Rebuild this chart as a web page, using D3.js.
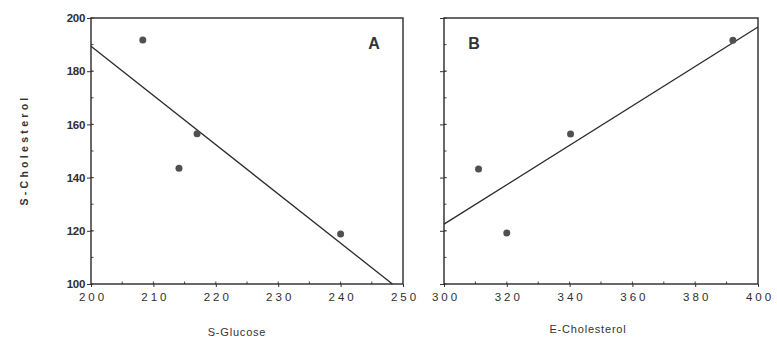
<!DOCTYPE html>
<meta charset="utf-8">
<style>
    body {
        margin: 0;
        background: #fff;
    }

    svg {
        font-family: "Liberation Sans", Arial, sans-serif;
    }

    .frame {
        fill: none;
        stroke: #2a2a2a;
        stroke-width: 1.4;
    }

    .axis path {
        display: none;
    }

    .axis line {
        stroke: #333;
    }

    .axis text {
        fill: #2e2e2e;
    }

    .fit {
        fill: none;
        stroke: #2a2a2a;
        stroke-width: 1.3;
    }

    .dot {
        fill: #505050;
    }
</style>
<body>
<script src="https://cdn.jsdelivr.net/npm/d3@7"></script>
<script>
    const width = 777;
    const height = 341;

    // panel A: S-Glucose vs S-Cholesterol
    const glucoseA = [208.3, 214.1, 217, 240];
    const cholA = [191.7, 143.5, 156.5, 118.8];
    const fitA = [[200, 189.4], [248.3, 100]];

    // panel B: E-Cholesterol vs S-Cholesterol
    const eCholB = [311, 320, 340.3, 392];
    const cholB = [143.2, 119.2, 156.4, 191.6];
    const fitB = [[300, 122.5], [400, 196.6]];

    const yTicks = [100, 120, 140, 160, 180, 200];
    const xTicksA = [200, 210, 220, 230, 240, 250];
    const xTicksB = [300, 320, 340, 360, 380, 400];

    const svg = d3.select('body')
        .append('svg')
        .attr('width', width)
        .attr('height', height);

    const yScale = d3.scaleLinear().domain([100, 200]).range([284, 18]);

    function drawPanel(opts) {
        const xScale = d3.scaleLinear().domain(opts.domain).range(opts.range);
        const g = svg.append('g');

        // minor ticks inside the frame
        const minorY = d3.range(110, 200, 10).concat(yTicks);
        g.selectAll('.ytick-minor')
            .data(minorY)
            .enter().append('line')
            .attr('x1', opts.range[0])
            .attr('x2', opts.range[0] + 2.5)
            .attr('y1', d => yScale(d))
            .attr('y2', d => yScale(d))
            .attr('stroke', '#444');

        const stepX = (opts.domain[1] - opts.domain[0]) / 10;
        g.selectAll('.xtick-minor')
            .data(d3.range(opts.domain[0] + stepX, opts.domain[1], stepX))
            .enter().append('line')
            .attr('x1', d => xScale(d))
            .attr('x2', d => xScale(d))
            .attr('y1', yScale(100))
            .attr('y2', yScale(100) - 2.5)
            .attr('stroke', '#444');

        // y axis
        const yAxis = d3.axisLeft(yScale)
            .tickValues(yTicks)
            .tickSize(4)
            .tickPadding(2)
            .tickFormat(opts.yLabels ? d3.format('d') : '');
        g.append('g')
            .attr('class', 'y axis')
            .attr('transform', 'translate(' + opts.range[0] + ',0)')
            .call(yAxis)
            .selectAll('text')
            .attr('font-size', 11.5)
            .attr('font-weight', 'bold')
            .attr('letter-spacing', '-0.3px');

        // x axis
        const xAxis = d3.axisBottom(xScale)
            .tickValues(opts.ticks)
            .tickSize(3)
            .tickPadding(6)
            .tickFormat(d3.format('d'));
        g.append('g')
            .attr('class', 'x axis')
            .attr('transform', 'translate(0,' + yScale(100) + ')')
            .call(xAxis)
            .selectAll('text')
            .attr('font-size', 11.5)
            .attr('letter-spacing', '3px')
            .attr('dx', '1.5px');

        // frame
        g.append('rect')
            .attr('class', 'frame')
            .attr('x', opts.range[0])
            .attr('y', yScale(200))
            .attr('width', opts.range[1] - opts.range[0])
            .attr('height', yScale(100) - yScale(200));

        // regression line
        g.append('path')
            .datum(opts.fit)
            .attr('class', 'fit')
            .attr('d', d3.line().x(d => xScale(d[0])).y(d => yScale(d[1])));

        // points
        g.selectAll('.dot')
            .data(opts.x.map((v, i) => [v, opts.y[i]]))
            .enter().append('circle')
            .attr('class', 'dot')
            .attr('r', 3.5)
            .attr('cx', d => xScale(d[0]))
            .attr('cy', d => yScale(d[1]));

        // panel letter
        g.append('text')
            .attr('x', opts.letterX)
            .attr('y', 49)
            .attr('text-anchor', 'middle')
            .attr('font-size', 16)
            .attr('font-weight', 'bold')
            .attr('fill', '#333')
            .text(opts.letter);

        // x label
        g.append('text')
            .attr('x', opts.labelX)
            .attr('y', opts.labelY)
            .attr('text-anchor', 'middle')
            .attr('font-size', 11)
            .attr('letter-spacing', '0.8px')
            .attr('fill', '#333')
            .text(opts.label);
    }

    drawPanel({
        domain: [200, 250], range: [91, 403], ticks: xTicksA,
        x: glucoseA, y: cholA, fit: fitA, yLabels: true,
        letter: 'A', letterX: 374, label: 'S-Glucose', labelX: 237, labelY: 336
    });

    drawPanel({
        domain: [300, 400], range: [444, 758], ticks: xTicksB,
        x: eCholB, y: cholB, fit: fitB, yLabels: false,
        letter: 'B', letterX: 474, label: 'E-Cholesterol', labelX: 588, labelY: 333
    });

    // shared y label
    svg.append('text')
        .attr('transform', 'translate(28,150) rotate(-90)')
        .attr('text-anchor', 'middle')
        .attr('font-size', 10.5)
        .attr('font-weight', 'bold')
        .attr('letter-spacing', '3.3px')
        .attr('fill', '#333')
        .text('S-Cholesterol');
</script>
</body>
</html>
